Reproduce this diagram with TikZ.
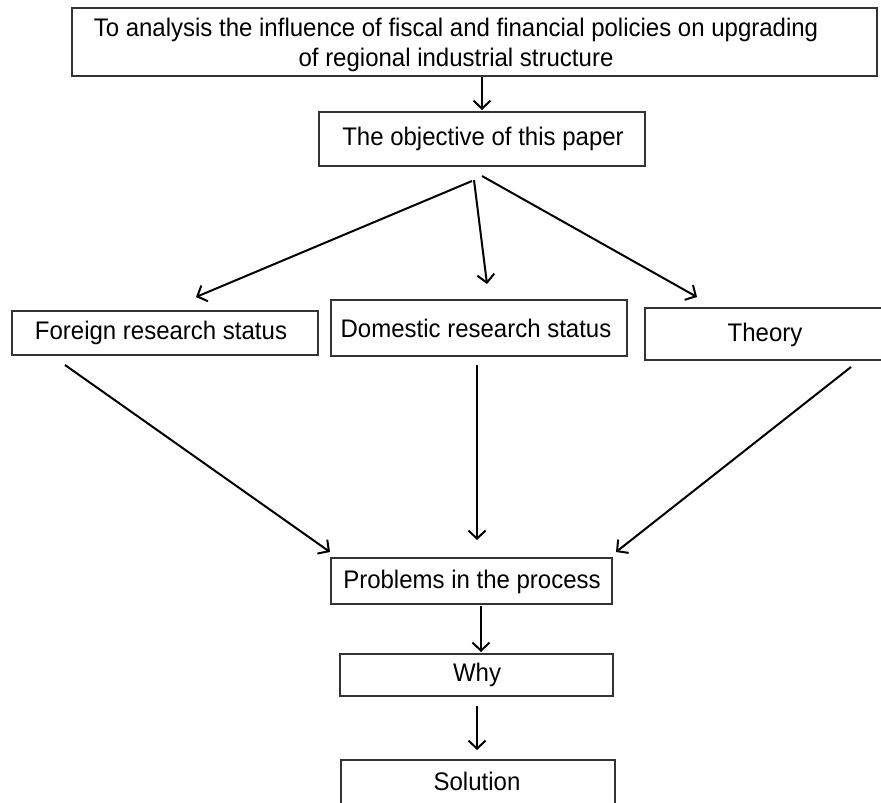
\documentclass[tikz,border=0pt]{standalone}
\usepackage{fontspec}
\setmainfont{Liberation Sans}
\usetikzlibrary{arrows.meta}
\begin{document}
\begin{tikzpicture}[x=1pt,y=-1pt,
  box/.style={draw=black!80,line width=1.4pt,inner sep=0pt},
  lbl/.style={inner sep=0pt,font=\fontsize{24}{28}\selectfont,align=center,yscale=1.06},
  arr/.style={line width=2pt,-{Straight Barb[length=8pt,width=17pt,line width=2pt]}}]
\useasboundingbox (0,0) rectangle (881,803);
% boxes
\node[box,minimum width=805pt,minimum height=68pt] (top) at (474.5,42) {};
\node[lbl] (toptext) at (456,45) {To analysis the influence of fiscal and financial policies on upgrading\\of regional industrial structure};
\node[box,minimum width=326pt,minimum height=54pt] (obj) at (482,139) {};
\node[lbl] (objtext) at (483,139) {The objective of this paper};
\node[box,minimum width=306pt,minimum height=44pt] (for) at (165,333) {};
\node[lbl] (fortext) at (161,333) {Foreign research status};
\node[box,minimum width=296pt,minimum height=56pt] (dom) at (479,328) {};
\node[lbl] (domtext) at (476,328) {Domestic research status};
\node[box,minimum width=240pt,minimum height=52pt] (the) at (765,334) {};
\node[lbl] (thetext) at (765,335) {Theory};
\node[box,minimum width=281pt,minimum height=46pt] (pro) at (471.5,581) {};
\node[lbl] (protext) at (472,582) {Problems in the process};
\node[box,minimum width=273pt,minimum height=42pt] (why) at (476.5,675) {};
\node[lbl] (whytext) at (477,675) {Why};
\node[box,minimum width=274pt,minimum height=46pt] (sol) at (478,783) {};
\node[lbl] (soltext) at (477,781) {Solution};
% connector end points
\coordinate (a1) at (482,77);
\coordinate (a1e) at (482,110);
\coordinate (b1) at (472,181);
\coordinate (b1e) at (196,297);
\coordinate (b2) at (474,180);
\coordinate (b2e) at (487,284);
\coordinate (b3) at (482,176);
\coordinate (b3e) at (697,297);
\coordinate (c1) at (65,365);
\coordinate (c1e) at (330,552);
\coordinate (c2) at (477,365);
\coordinate (c2e) at (477,540);
\coordinate (c3) at (851,367);
\coordinate (c3e) at (616,552);
\coordinate (d1) at (481,606);
\coordinate (d1e) at (481,652);
\coordinate (e1) at (477,706);
\coordinate (e1e) at (477,750);
% connectors
\draw[arr] (a1) -- (a1e);
\draw[arr] (b1) -- (b1e);
\draw[arr] (b2) -- (b2e);
\draw[arr] (b3) -- (b3e);
\draw[arr] (c1) -- (c1e);
\draw[arr] (c2) -- (c2e);
\draw[arr] (c3) -- (c3e);
\draw[arr] (d1) -- (d1e);
\draw[arr] (e1) -- (e1e);
\end{tikzpicture}
\end{document}
